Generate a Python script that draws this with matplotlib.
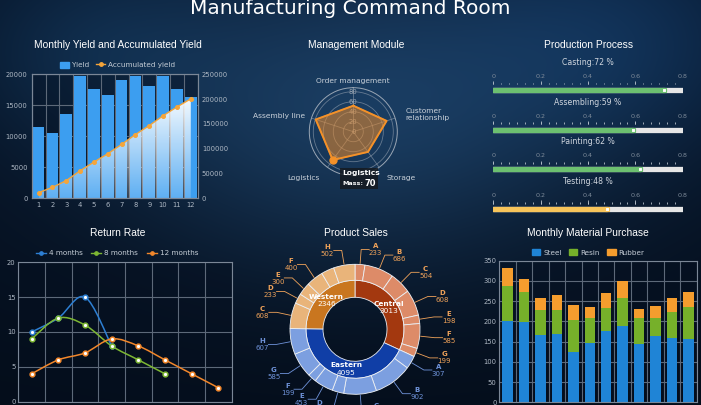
import numpy as np
import matplotlib
matplotlib.use('Agg')
import matplotlib.pyplot as plt
from matplotlib.path import Path
from matplotlib.patches import PathPatch, Patch, FancyBboxPatch
from matplotlib.lines import Line2D

# ---------------------------------------------------------
# Data
# ---------------------------------------------------------
months = np.arange(1, 13)
monthly_yield = [11500, 10600, 13600, 19800, 17600, 16700, 19000, 19800, 18100, 19800, 17700, 16300]
accumulated_yield = [11500, 22100, 35700, 55500, 73100, 89800, 108800, 128600, 146700, 166500, 184200, 200500]

indicators = ['Order management', 'Customer\nrelationship', 'Storage', 'Logistics', 'Assembly line']
indicator_values = [52, 70, 50, 70, 79]

stages = ['Casting', 'Assembling', 'Painting', 'Testing']
progress = [0.72, 0.59, 0.62, 0.48]

return_4m = [10, 12, 15, 8]
return_8m = [9, 12, 11, 8, 6, 4]
return_12m = [4, 6, 7, 9, 8, 6, 4, 2]

regions = ['Central', 'Eastern', 'Western']
region_sales = [3013, 4095, 2346]
central_items = ['A', 'B', 'C', 'D', 'E', 'F', 'G']
central_sales = [233, 686, 504, 608, 198, 585, 199]
eastern_items = ['A', 'B', 'C', 'D', 'E', 'F', 'G', 'H']
eastern_sales = [307, 902, 769, 273, 453, 199, 585, 607]
western_items = ['C', 'D', 'E', 'F', 'G', 'H']
western_sales = [608, 233, 300, 400, 303, 502]
hidden_labels = [('Western', 'G')]

steel = [201, 199, 166, 170, 125, 146, 177, 189, 144, 165, 159, 156]
resin = [87, 74, 62, 58, 78, 62, 55, 70, 65, 44, 65, 79]
rubber = [45, 33, 29, 37, 37, 27, 37, 41, 22, 29, 33, 38]

# ---------------------------------------------------------
# Figure + helpers (pixel layout)
# ---------------------------------------------------------
W, H = 701, 405
fig = plt.figure(figsize=(W / 100, H / 100), dpi=100)


def rect(x0, y0, x1, y1):
    return [x0 / W, 1 - y1 / H, (x1 - x0) / W, (y1 - y0) / H]


def fx(x):
    return x / W


def fy(y):
    return 1 - y / H


title_font = ['Liberation Sans', 'DejaVu Sans']
grid_c = '#5d6979'
tick_c = '#aeb8c4'
panel_bg = (0.02, 0.06, 0.12, 0.45)

# background
yy, xx = np.mgrid[0:H, 0:W].astype(float)
bg = np.zeros((H, W, 3))
base = np.array([6, 19, 38]) / 255
glow = np.exp(-((xx - 360) / 260) ** 2 - ((yy - 120) / 160) ** 2)
glow2 = np.exp(-((xx - 620) / 160) ** 2 - ((yy - 40) / 110) ** 2)
glow3 = np.exp(-((xx - 90) / 130) ** 2 - ((yy - 50) / 90) ** 2)
for c in range(3):
    bg[..., c] = (base[c] + np.array([22, 46, 66])[c] / 255 * glow
                  + np.array([6, 20, 34])[c] / 255 * glow2
                  + np.array([5, 16, 24])[c] / 255 * glow3)
bg *= (1 - 0.3 * yy / H)[..., None]
bg_ax = fig.add_axes([0, 0, 1, 1], zorder=-10)
bg_ax.imshow(np.clip(bg, 0, 1), aspect='auto', extent=(0, 1, 0, 1))
bg_ax.axis('off')

fig.text(fx(350), fy(14.5), 'Manufacturing Command Room', color='white',
         fontsize=14.5, ha='center', va='baseline')

titles = [('Monthly Yield and Accumulated Yield', 117.5, 45),
          ('Management Module', 355.7, 45),
          ('Production Process', 588.3, 45),
          ('Return Rate', 117.8, 233),
          ('Product Sales', 355.8, 233),
          ('Monthly Material Purchase', 588.3, 233)]
for t, x, y in titles:
    fig.text(fx(x), fy(y), t, color='white', fontsize=7.4, ha='center', va='center',
             family=title_font)


def style_axes(ax):
    ax.set_facecolor(panel_bg)
    for s in ax.spines.values():
        s.set_color('#7b8797')
        s.set_linewidth(0.8)
    ax.tick_params(which='both', length=0, colors=tick_c, labelsize=4.9, pad=3)


# ---------------------------------------------------------
# Monthly yield
# ---------------------------------------------------------
ax1 = fig.add_axes(rect(31.7, 74.3, 197.7, 198.3))
style_axes(ax1)
ax1.bar(months, monthly_yield, width=0.84, color='#3c9ef0', zorder=2)
ax1.set_ylim(0, 20000)
ax1.set_yticks(range(0, 20001, 5000))
ax1.set_xticks(months)
ax1.set_xticks(np.arange(0.5, 12.6, 1), minor=True)
ax1.grid(True, axis='y', color=grid_c, lw=0.8)
ax1.grid(True, axis='x', which='minor', color=grid_c, lw=0.8)
ax1.set_axisbelow(True)

ax2 = ax1.twinx()
style_axes(ax2)
ax2.set_facecolor('none')
area = ax2.fill_between(months, accumulated_yield, 0, facecolor='none', edgecolor='none')
grad = np.ones((256, 1, 4))
grad[:, 0, 3] = np.linspace(0.95, 0.18, 256)
im = ax2.imshow(grad, extent=(months[0], months[-1], 0, max(accumulated_yield)),
                aspect='auto', zorder=2, interpolation='bilinear')
im.set_clip_path(area.get_paths()[0], transform=ax2.transData)
ax2.plot(months, accumulated_yield, color='#f5a53a', lw=1.0, marker='o', ms=2.6, zorder=4)
ax2.set_ylim(0, 250000)
ax2.set_yticks(range(0, 250001, 50000))
ax1.set_xlim(0.5, 12.5)

fig.legend([Patch(color='#3c9ef0'),
            Line2D([], [], color='#f5a53a', marker='o', ms=2.5, lw=1)],
           ['Yield', 'Accumulated yield'], loc='center',
           bbox_to_anchor=(fx(117.5), fy(65)), ncol=2, frameon=False, fontsize=5.2,
           labelcolor='#c5cdd6', handlelength=1.2, handleheight=0.9,
           handletextpad=0.4, columnspacing=1.0)

# ---------------------------------------------------------
# Management module (radar)
# ---------------------------------------------------------
axr = fig.add_axes(rect(309.3, 87.7, 397.3, 175.7), projection='polar')
axr.patch.set_alpha(0)
axr.set_theta_offset(np.pi / 2)
axr.set_theta_direction(-1)
angles = np.deg2rad(np.arange(len(indicators)) * 72)
axr.set_xticks(angles)
axr.set_xticklabels([])
axr.set_yticks([20, 40, 60, 80])
axr.set_yticklabels([])
axr.set_ylim(0, 88)
axr.grid(color='#8f9cac', lw=0.6, alpha=0.65)
axr.spines['polar'].set_color('#9aa6b4')
axr.spines['polar'].set_linewidth(0.7)
for r in [0, 20, 40, 60, 80]:
    axr.text(0, r, str(r), color='#9aa6b3', fontsize=4.9, ha='center', va='center')
closed_a = np.append(angles, angles[0])
closed_v = np.append(indicator_values, indicator_values[0])
axr.fill(closed_a, closed_v, color='#e88a2c', alpha=0.55, zorder=3)
axr.plot(closed_a, closed_v, color='#f39129', lw=1.4, zorder=4)
axr.plot(angles[3], indicator_values[3], 'o', color='#f39129', ms=5, zorder=5)
label_align = ['center', 'left', 'left', 'right', 'right']
label_r = [101, 110, 114, 114, 101]
for a, name, ha, r in zip(angles, indicators, label_align, label_r):
    axr.text(a, r, name, color='#c9d1da', fontsize=5.4, ha=ha, va='center',
             multialignment='left', clip_on=False)

tip = FancyBboxPatch((fx(340), fy(188.5)), 38 / W, 20.5 / H, boxstyle='square,pad=0',
                     transform=fig.transFigure, facecolor='#151a20', alpha=0.85,
                     edgecolor='none')
fig.patches.append(tip)
fig.text(fx(342), fy(173), indicators[3], color='white', fontsize=5.4,
         fontweight='bold', va='center')
fig.text(fx(342), fy(183.5), 'Mass:', color='white', fontsize=4.6, fontweight='bold',
         va='center')
fig.text(fx(364.5), fy(183.3), str(indicator_values[3]), color='white', fontsize=6,
         fontweight='bold', va='center')

# ---------------------------------------------------------
# Production process
# ---------------------------------------------------------
axp = fig.add_axes(rect(493.3, 50, 682.7, 216))
axp.set_xlim(0, 0.8)
axp.set_ylim(216, 50)
axp.axis('off')
minor = np.linspace(0, 0.8, 25)
for i, (name, v) in enumerate(zip(stages, progress)):
    y0 = 62.3 + 39.8 * i
    yb = y0 + 27.5
    col = '#f7c45a' if v < 0.5 else '#6cc070'
    axp.text(0.4, y0, f'{name}:{round(v * 100)} %', color='#d0d6de', fontsize=5.6,
             ha='center', va='center')
    for t in np.arange(0, 0.81, 0.2):
        axp.text(t, yb - 13.5, f'{t:.1f}'.replace('0.0', '0'), color='#7d8a99',
                 fontsize=4.6, ha='center', va='center')
    axp.vlines(minor, yb - 7.2, yb - 5.5, color='#b8c2cc', lw=0.6)
    axp.vlines(minor[::6], yb - 8.8, yb - 5.5, color='#b8c2cc', lw=0.6)
    axp.plot([0, 0.8], [yb, yb], color='#e6e6e6', lw=3.8, solid_capstyle='round')
    axp.plot([0, v], [yb, yb], color=col, lw=3.8, solid_capstyle='round')
    axp.plot(v, yb, marker='s', ms=3, mfc='white', mec=col, mew=0.8)

# ---------------------------------------------------------
# Return rate
# ---------------------------------------------------------
axl = fig.add_axes(rect(18.3, 262.3, 231.7, 401.7))
style_axes(axl)
axl.set_xlim(0, 8)
axl.set_ylim(0, 20)
axl.set_xticks(range(0, 9))
axl.set_xticklabels([])
axl.set_yticks(range(0, 21, 5))
axl.tick_params(pad=2)
axl.grid(True, color=grid_c, lw=0.8)
axl.set_axisbelow(True)


def smooth_path(xs, ys, k=1.0):
    pts = np.column_stack([xs, ys]).astype(float)
    verts, codes = [pts[0]], [Path.MOVETO]
    n = len(pts)
    for i in range(n - 1):
        p0, p1 = pts[max(i - 1, 0)], pts[i]
        p2, p3 = pts[i + 1], pts[min(i + 2, n - 1)]
        verts += [p1 + (p2 - p0) / 6 * k, p2 - (p3 - p1) / 6 * k, p2]
        codes += [Path.CURVE4] * 3
    return Path(verts, codes)


rr_series = [('4 months', return_4m, '#2d7fd3'),
             ('8 months', return_8m, '#7db733'),
             ('12 months', return_12m, '#f2872b')]
handles = []
for name, vals, col in rr_series:
    xs = np.arange(len(vals)) + 0.5
    axl.add_patch(PathPatch(smooth_path(xs, vals), facecolor='none', edgecolor=col,
                            lw=1.1, zorder=3))
    axl.plot(xs, vals, 'o', mfc='white', mec=col, mew=1.1, ms=3.4, zorder=4)
    handles.append(Line2D([], [], color=col, marker='o', ms=2.4, lw=1))
fig.legend(handles, [s[0] for s in rr_series], loc='center',
           bbox_to_anchor=(fx(117), fy(253)), ncol=3, frameon=False, fontsize=5.2,
           labelcolor='#c5cdd6', handlelength=1.4, handletextpad=0.4, columnspacing=1.2)

# ---------------------------------------------------------
# Product sales (nested donut)
# ---------------------------------------------------------
cx, cy = 355, 329.3
axd = fig.add_axes(rect(cx - 110, cy - 110, cx + 110, cy + 110))
inner_c = {'Central': '#a3380f', 'Eastern': '#103ea6', 'Western': '#c9761f'}
outer_c = {'Central': '#dd8b68', 'Eastern': '#7c9fe0', 'Western': '#e9b47a'}
label_c = {'Central': '#f0a35a', 'Eastern': '#6f93da', 'Western': '#f0a35a'}
children = {'Central': (central_items, central_sales),
            'Eastern': (eastern_items, eastern_sales),
            'Western': (western_items, western_sales)}

axd.pie(region_sales, radius=49, startangle=90, counterclock=False,
        colors=[inner_c[r] for r in regions],
        wedgeprops=dict(width=17, edgecolor='#e8ecf2', linewidth=0.6))
outer_vals, outer_cols, outer_info = [], [], []
for r in regions:
    for item, v in zip(*children[r]):
        outer_vals.append(v)
        outer_cols.append(outer_c[r])
        outer_info.append((r, item, v))
axd.pie(outer_vals, radius=65, startangle=90, counterclock=False, colors=outer_cols,
        wedgeprops=dict(width=16, edgecolor='#eef1f5', linewidth=0.6))
axd.set_xlim(-110, 110)
axd.set_ylim(-110, 110)
axd.axis('off')

# label anchors, then push apart vertically on the upper-left side
total = sum(outer_vals)
cum = 0
labels = []
for (r, item, v) in outer_info:
    mid = np.deg2rad(90 - 360 * (cum + v / 2) / total)
    cum += v
    if (r, item) in hidden_labels:
        continue
    labels.append([r, item, v, np.cos(mid), np.sin(mid), 80 * np.sin(mid)])
left_up = sorted([l for l in labels if l[3] < 0 and l[4] > 0], key=lambda l: l[5])
for prev, cur in zip(left_up, left_up[1:]):
    cur[5] = max(cur[5], prev[5] + 13.5)

for r, item, v, c, s, ly in labels:
    side = 1 if c >= 0 else -1
    ex = 80 * c
    hx = ex + 8 * side
    axd.plot([66 * c, ex, hx], [66 * s, ly, ly], color=label_c[r], lw=0.6,
             clip_on=False)
    tx = hx + 6.5 * side
    axd.text(tx, ly + 3.4, item, color=label_c[r], fontsize=5.0, fontweight='bold',
             ha='center', va='center', clip_on=False)
    axd.text(tx, ly - 3.6, str(v), color=label_c[r], fontsize=5.0, ha='center',
             va='center', clip_on=False)

cum = 0
for r, v in zip(regions, region_sales):
    mid = np.deg2rad(90 - 360 * (cum + v / 2) / sum(region_sales))
    cum += v
    px, py = 40.5 * np.cos(mid), 40.5 * np.sin(mid)
    axd.text(px, py + 3.6, r, color='white', fontsize=5.3, fontweight='bold',
             ha='center', va='center')
    axd.text(px, py - 3.8, str(v), color='white', fontsize=5.3, ha='center', va='center')

# ---------------------------------------------------------
# Monthly material purchase
# ---------------------------------------------------------
axm = fig.add_axes(rect(499.3, 260.7, 696.7, 402.3))
style_axes(axm)
x = np.arange(len(steel))
bottom2 = np.array(steel)
bottom3 = bottom2 + np.array(resin)
axm.bar(x, steel, width=0.64, color='#1f84d6', zorder=2)
axm.bar(x, resin, width=0.64, bottom=bottom2, color='#76b02a', zorder=2)
axm.bar(x, rubber, width=0.64, bottom=bottom3, color='#f59d2e', zorder=2)
axm.set_xlim(-0.5, len(steel) - 0.5)
axm.set_ylim(0, 350)
axm.set_yticks(range(0, 351, 50))
axm.set_xticks(x)
axm.set_xticklabels([])
axm.set_xticks(np.arange(-0.5, len(steel)), minor=True)
axm.grid(True, axis='y', color=grid_c, lw=0.8)
axm.grid(True, axis='x', which='minor', color=grid_c, lw=0.8)
axm.set_axisbelow(True)
axm.tick_params(pad=2)
fig.legend([Patch(color='#1f84d6'), Patch(color='#76b02a'), Patch(color='#f59d2e')],
           ['Steel', 'Resin', 'Rubber'], loc='center',
           bbox_to_anchor=(fx(588), fy(252.5)), ncol=3, frameon=False, fontsize=5.2,
           labelcolor='#c5cdd6', handlelength=1.2, handleheight=0.9,
           handletextpad=0.4, columnspacing=1.0)

fig.savefig('out.png', dpi=100)
